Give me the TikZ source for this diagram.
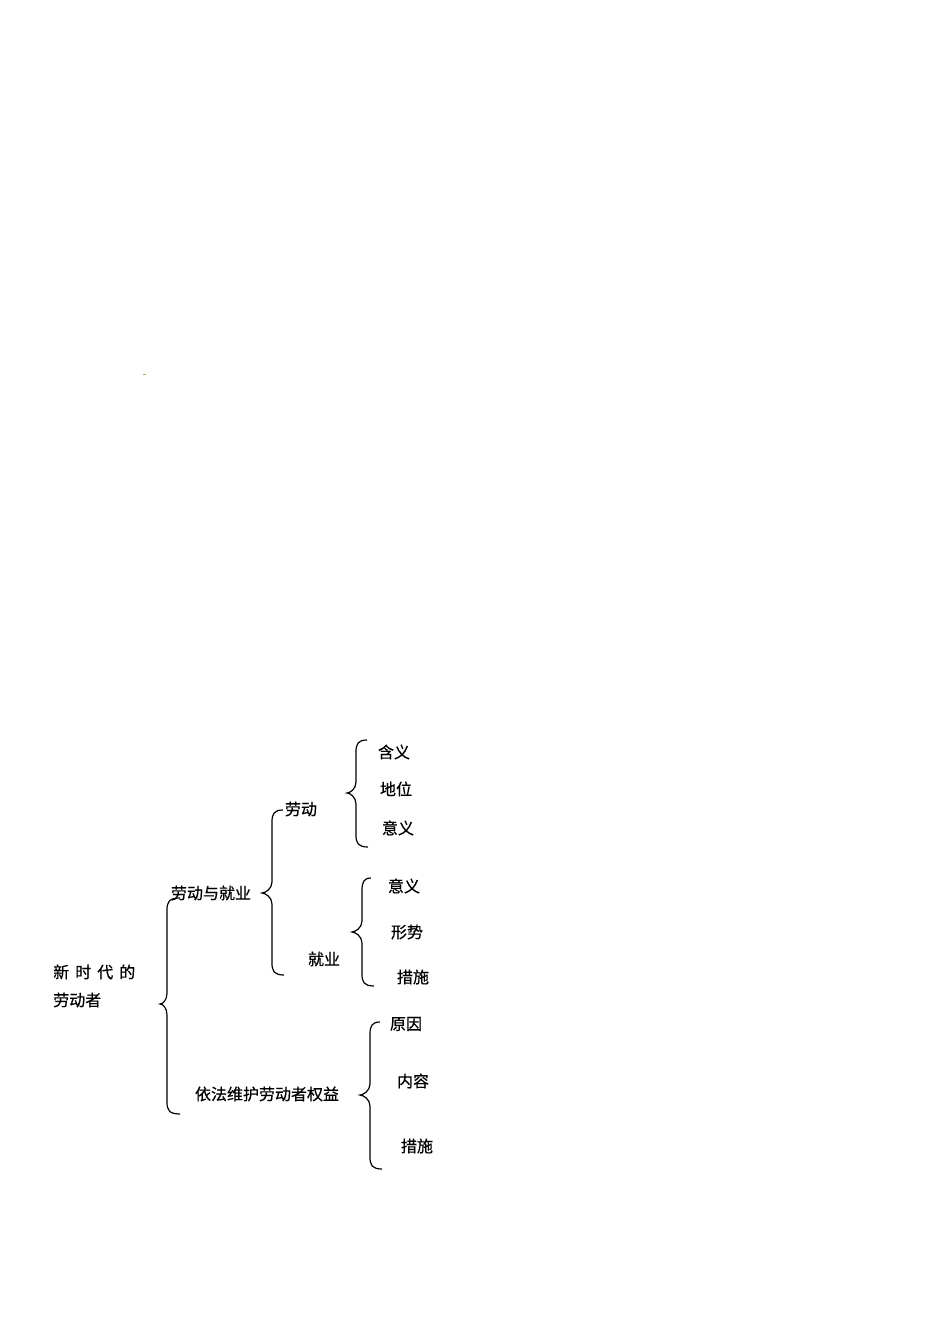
\documentclass[tikz,border=0pt]{standalone}
\usepackage{fontspec}
\newfontfamily\cjk[FakeBold=0.6]{Noto Sans CJK SC}
\definecolor{dashcol}{HTML}{B4A46E}
\newcommand\mybrace[7]{% xt yt xv xc yc xb yb
  \draw[bracestyle] (#1,#2) .. controls (#3+2,#2) and (#3,#2+4) .. (#3,#2+12) -- (#3,#5-11)
    .. controls (#3,#5-4) and (#4+3,#5) .. (#4,#5) .. controls (#4+3,#5) and (#3,#5+4) .. (#3,#5+11)
    -- (#3,#7-12) .. controls (#3,#7-4) and (#3+2,#7) .. (#6,#7);}
\begin{document}
\begin{tikzpicture}[x=0.75pt,y=-0.75pt,
  bracestyle/.style={line width=0.9pt,black},
  lbl/.style={font=\cjk\fontsize{12pt}{14pt}\selectfont,inner sep=0pt,anchor=center}]
\useasboundingbox[fill=white] (0,0) rectangle (950,1344);
\fill[dashcol] (143,373.5) rectangle (146,374.6);
% braces
\mybrace{180}{898}{167}{160}{1004}{180}{1114}
\mybrace{283}{810}{272}{262}{893}{284}{975}
\mybrace{367}{740}{356}{347}{793}{368}{847}
\mybrace{371}{878}{362}{352}{932}{374}{986}
\mybrace{380}{1022}{370}{360}{1095}{382}{1169}
% labels
\node[lbl,anchor=west] (root1) at (53,972) {新\hspace{4.5pt}时\hspace{4.5pt}代\hspace{4.5pt}的};
\node[lbl,anchor=west] (root2) at (53,1000) {劳动者};
\node[lbl] (ldjy) at (211,893) {劳动与就业};
\node[lbl] (yfwh) at (267,1094) {依法维护劳动者权益};
\node[lbl] (ld) at (301,809) {劳动};
\node[lbl] (jy) at (324,959) {就业};
\node[lbl] (a1) at (394,752) {含义};
\node[lbl] (a2) at (396,789) {地位};
\node[lbl] (a3) at (398,828) {意义};
\node[lbl] (b1) at (404,886) {意义};
\node[lbl] (b2) at (407,932) {形势};
\node[lbl] (b3) at (413,977) {措施};
\node[lbl] (c1) at (406,1024) {原因};
\node[lbl] (c2) at (413,1081) {内容};
\node[lbl] (c3) at (417,1146) {措施};
\end{tikzpicture}
\end{document}
